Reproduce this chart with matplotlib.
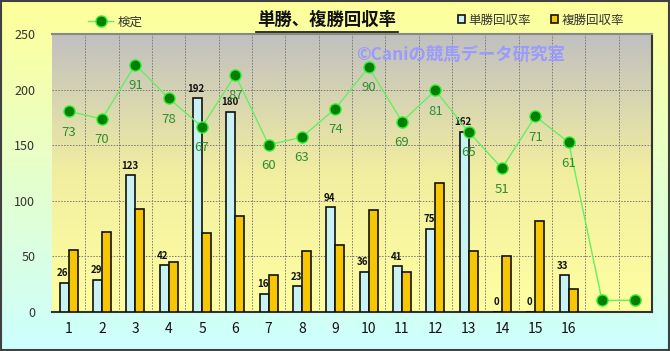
import numpy as np
import matplotlib
matplotlib.use('Agg')
import matplotlib.pyplot as plt
from matplotlib.patches import Rectangle, Patch
from matplotlib.lines import Line2D
from matplotlib.colors import LinearSegmentedColormap

plt.rcParams['font.family'] = ['Noto Sans CJK JP', 'DejaVu Sans']

# data
races = ['1', '2', '3', '4', '5', '6', '7', '8', '9', '10',
         '11', '12', '13', '14', '15', '16', '', '']
tansho = [26, 29, 123, 42, 192, 180, 16, 23, 94, 36, 41, 75, 162, 0, 0, 33]
fukusho = [56, 72, 93, 45, 71, 86, 33, 55, 60, 92, 36, 116, 55, 50, 82, 21]
kentei = [73, 70, 91, 78, 67, 87, 60, 63, 74, 90, 69, 81, 65, 51, 71, 61, 0, 0]

W, H = 670, 351
fig = plt.figure(figsize=(W / 100, H / 100), dpi=100)

# figure background gradient (yellow -> cyan)
bg = fig.add_axes([0, 0, 1, 1], zorder=-10)
bg_cmap = LinearSegmentedColormap.from_list('bg', ['#ccffff', '#ffff99'])
bg.imshow(np.linspace(0, 1, 256).reshape(-1, 1)[::-1], cmap=bg_cmap,
          aspect='auto', extent=[0, 1, 0, 1])
bg.set_xlim(0, 1)
bg.set_ylim(0, 1)
bg.axis('off')
fig.add_artist(Rectangle((0.0015, 0.003), 0.997, 0.994, transform=fig.transFigure,
                         fill=False, edgecolor='#404040', lw=1.5))

ax = fig.add_axes([52 / W, 1 - 312 / H, 600 / W, 278 / H])
ax.patch.set_alpha(0)
pa_cmap = LinearSegmentedColormap.from_list('pa', ['#ffffa0', '#f2eea0', '#c0c0c0'])
ax.imshow(np.linspace(0, 1, 256).reshape(-1, 1)[::-1], cmap=pa_cmap,
          aspect='auto', extent=[0, 1, 0, 1], transform=ax.transAxes, zorder=0)

x = np.arange(len(races))
xb = np.arange(len(tansho))
bw = 0.27
b1 = ax.bar(xb - bw / 2, tansho, bw, color='#c8f2f4', edgecolor='#111111', lw=1.2, zorder=3)
b2 = ax.bar(xb + bw / 2, fukusho, bw, color='#f7c600', edgecolor='#111111', lw=1.2, zorder=3)
for xi, v in zip(xb, tansho):
    ax.annotate(str(v), (xi - bw / 2, v), xytext=(-1, 7), textcoords='offset points',
                ha='center', va='center', fontsize=7, fontweight='bold',
                color='#111111', zorder=5)

ax.set_xlim(-0.5, len(races) - 0.5)
ax.set_ylim(0, 250)
ax.set_yticks(range(0, 251, 50))
ax.set_xticks(x)
ax.set_xticklabels(races)
ax.set_xticks(np.arange(0.5, len(races) - 0.5, 1), minor=True)
ax.tick_params(axis='y', length=0, pad=12, labelsize=9, labelcolor='#333333')
ax.tick_params(axis='x', which='both', length=0, pad=7, labelsize=10, labelcolor='#111111')
ax.grid(axis='y', which='major', color='#777777', ls=(0, (1.5, 1.5)), lw=0.7, zorder=1)
ax.grid(axis='x', which='minor', color='#777777', ls=(0, (1.5, 1.5)), lw=0.7, zorder=1)
ax.spines['left'].set_visible(False)
ax.spines['top'].set_color('#888888')
ax.spines['top'].set_linewidth(1.5)
for s in ['bottom', 'right']:
    ax.spines[s].set_color('#333333')
    ax.spines[s].set_linewidth(1.5)

ax.text(356 / W, 1 - 55 / H, '©Caniの競馬データ研究室', transform=fig.transFigure,
        ha='left', va='center', fontsize=12.5, fontweight='bold', color='#9a9aff',
        zorder=2)

# secondary (hidden) scale for the line
ax2 = ax.twinx()
ax2.set_ylim(-4.5, 102.8)
ax2.set_yticks([])
for s in ax2.spines.values():
    s.set_visible(False)
ln, = ax2.plot(x, kentei, color='#66ee66', lw=1, marker='o', markersize=8,
               markerfacecolor='#008000', markeredgecolor='#33ee33', markeredgewidth=1,
               zorder=6)
for xi, v in zip(x[:16], kentei[:16]):
    ax2.annotate(str(v), (xi, v), xytext=(0, -15), textcoords='offset points',
                 ha='center', va='center', fontsize=9.5, color='#2e8f2e', zorder=6)

# title
fig.text(327 / W, 1 - 20 / H, '単勝、複勝回収率', ha='center', va='center',
         fontsize=12.5, fontweight='bold', color='#111111')
fig.add_artist(Line2D([256 / W, 398 / W], [1 - 32 / H, 1 - 32 / H],
                      transform=fig.transFigure, color='#111111', lw=1.2))

# legends
fig.legend([ln], ['検定'], loc='center left', bbox_to_anchor=(88 / W, 1 - 22 / H),
           frameon=False, fontsize=9, labelcolor='#333333', borderpad=0,
           borderaxespad=0, handletextpad=0.4, handlelength=2.0)
fig.legend([Patch(facecolor='#c8f2f4', edgecolor='#111111', lw=1.2),
            Patch(facecolor='#f7c600', edgecolor='#111111', lw=1.2)],
           ['単勝回収率', '複勝回収率'], loc='center left',
           bbox_to_anchor=(458 / W, 1 - 20 / H), ncol=2, frameon=False,
           fontsize=9, labelcolor='#333333', borderpad=0, borderaxespad=0,
           handletextpad=0.3, handlelength=0.55, handleheight=0.55,
           columnspacing=1.6)

fig.savefig('out.png', dpi=100)
